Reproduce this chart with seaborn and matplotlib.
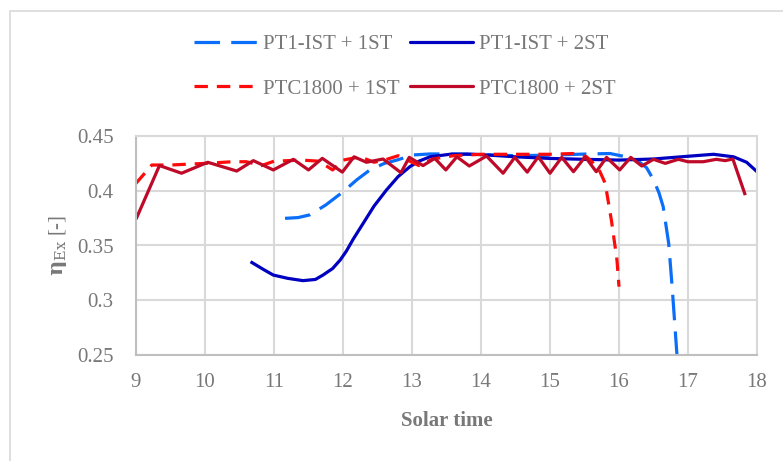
import numpy as np
import pandas as pd
import matplotlib
matplotlib.use("Agg")
import matplotlib.pyplot as plt
from matplotlib.patches import Rectangle
from matplotlib.lines import Line2D
import seaborn as sns

# --- data -------------------------------------------------------------
pt1_1st_x = [11.16, 11.35, 11.52, 11.75, 12.0, 12.2, 12.39, 12.6, 12.78, 13.02, 13.26,
             13.6, 14.0, 14.5, 15.0, 15.5, 15.87, 16.1, 16.26, 16.4, 16.50, 16.58,
             16.64, 16.72, 16.77, 16.84]
pt1_1st_y = [0.3748, 0.3755, 0.378, 0.387, 0.399, 0.410, 0.419, 0.425, 0.428, 0.4327, 0.4336,
             0.4336, 0.433, 0.432, 0.4325, 0.4335, 0.434, 0.431, 0.428, 0.421, 0.410, 0.398,
             0.3855, 0.352, 0.3124, 0.25]

pt1_2st_x = [10.66, 10.85, 10.99, 11.2, 11.42, 11.6, 11.71, 11.85, 11.96, 12.05, 12.15, 12.29,
             12.45, 12.63, 12.8, 12.97, 13.1, 13.26, 13.55, 13.8, 14.0, 14.5, 15.0, 15.5,
             16.0, 16.5, 17.0, 17.37, 17.66, 17.85, 18.0]
pt1_2st_y = [0.3352, 0.328, 0.323, 0.320, 0.3179, 0.319, 0.323, 0.329, 0.3368, 0.345, 0.356,
             0.370, 0.386, 0.4007, 0.413, 0.422, 0.427, 0.431, 0.4333, 0.4335, 0.433, 0.431,
             0.4295, 0.4287, 0.428, 0.429, 0.4315, 0.4333, 0.431, 0.426, 0.4174]

ptc_1st_x = [9.0, 9.23, 9.5, 10.0, 10.4, 10.6, 10.82, 11.0, 11.4, 11.65, 11.85, 12.0, 12.25,
             12.45, 12.6, 12.8, 13.1, 13.3, 13.6, 14.0, 14.5, 15.0, 15.33, 15.53, 15.63,
             15.72, 15.80, 15.89, 15.97, 16.0]
ptc_1st_y = [0.4068, 0.4235, 0.4235, 0.425, 0.4265, 0.4265, 0.423, 0.427, 0.428, 0.427, 0.419,
             0.428, 0.431, 0.426, 0.428, 0.432, 0.423, 0.429, 0.432, 0.4333, 0.4333, 0.4333,
             0.434, 0.431, 0.425, 0.418, 0.4068, 0.373, 0.337, 0.3124]

ptc_2st_x = [9.0, 9.34, 9.66, 10.04, 10.46, 10.70, 10.99, 11.28, 11.50, 11.70, 11.99, 12.16,
             12.34, 12.58, 12.84, 12.96, 13.16, 13.33, 13.49, 13.65, 13.83, 14.08, 14.32,
             14.49, 14.67, 14.83, 15.00, 15.17, 15.34, 15.51, 15.67, 15.82, 16.01, 16.17,
             16.33, 16.50, 16.67, 16.86, 17.00, 17.22, 17.41, 17.54, 17.65, 17.83]
ptc_2st_y = [0.374, 0.423, 0.416, 0.426, 0.418, 0.4275, 0.419, 0.4287, 0.419, 0.4296, 0.417, 0.431,
             0.426, 0.429, 0.4165, 0.4305, 0.423, 0.4296, 0.419, 0.431, 0.4226, 0.4317, 0.416,
             0.4305, 0.417, 0.431, 0.416, 0.4305, 0.4174, 0.431, 0.4174, 0.4305, 0.419, 0.4305,
             0.4226, 0.4287, 0.425, 0.4287, 0.4265, 0.4265, 0.4287, 0.4275, 0.429, 0.396]

series_names = ["PT1-IST + 1ST", "PT1-IST + 2ST", "PTC1800 + 1ST", "PTC1800 + 2ST"]
x_ticks = [9, 10, 11, 12, 13, 14, 15, 16, 17, 18]
y_ticks = [0.25, 0.3, 0.35, 0.4, 0.45]
y_tick_labels = ["0.25", "0.3", "0.35", "0.4", "0.45"]

# --- styling ----------------------------------------------------------
colors = {"PT1-IST + 1ST": "#0A6EFA", "PT1-IST + 2ST": "#0000C0",
          "PTC1800 + 1ST": "#FF0A0A", "PTC1800 + 2ST": "#BE0A28"}
dash_map = {"PT1-IST + 1ST": (8, 3.5), "PT1-IST + 2ST": "",
            "PTC1800 + 1ST": (4.2, 2.8), "PTC1800 + 2ST": ""}
text_gray = "#787878"
grid_gray = "#D9D9D9"

sns.set_theme(style="white")
plt.rcParams["font.family"] = ["Liberation Serif", "DejaVu Serif"]
plt.rcParams["mathtext.fontset"] = "dejavuserif"

frames = []
for name, xs, ys in zip(series_names,
                        [pt1_1st_x, pt1_2st_x, ptc_1st_x, ptc_2st_x],
                        [pt1_1st_y, pt1_2st_y, ptc_1st_y, ptc_2st_y]):
    frames.append(pd.DataFrame({"time": xs, "eta": ys, "series": name}))
df = pd.concat(frames, ignore_index=True)

W, H = 783, 461
fig = plt.figure(figsize=(W / 100, H / 100), dpi=100)
ax = fig.add_axes([136 / W, 1 - 355 / H, (757 - 136) / W, (355 - 136) / H])

sns.lineplot(data=df, x="time", y="eta", hue="series", style="series",
             hue_order=series_names, style_order=series_names,
             palette=colors, dashes=dash_map, sort=False, estimator=None,
             linewidth=2.3, legend=False, ax=ax)
for ln in ax.lines:
    ln.set_solid_capstyle("butt")
    ln.set_dash_capstyle("butt")
    ln.set_solid_joinstyle("round")

ax.set_xlim(9, 18)
ax.set_ylim(0.25, 0.45)
ax.set_xticks(x_ticks)
ax.set_yticks(y_ticks)
ax.set_yticklabels(y_tick_labels)
ax.grid(True, color=grid_gray, linewidth=1.5)
ax.set_axisbelow(True)
for side, sp in ax.spines.items():
    sp.set_visible(True)
    sp.set_color("#BFBFBF" if side in ("left", "bottom") else grid_gray)
    sp.set_linewidth(1.5)
ax.tick_params(axis="both", length=0, labelsize=15, colors=text_gray)
ax.tick_params(axis="x", pad=13)
ax.tick_params(axis="y", pad=16)

ax.set_xlabel("Solar time", fontsize=15, fontweight="bold", color=text_gray, labelpad=14)
ax.set_ylabel(r"$\mathbf{\eta}_{\mathrm{Ex}}$ [-]", fontsize=15,
              color=text_gray, labelpad=6)

# legend: two rows, two columns
handles = {}
for name in series_names:
    d = dash_map[name]
    if d:
        h = Line2D([], [], color=colors[name], linewidth=2.3, dashes=d, dash_capstyle="butt")
    else:
        h = Line2D([], [], color=colors[name], linewidth=2.3)
    handles[name] = h
order = ["PT1-IST + 1ST", "PTC1800 + 1ST", "PT1-IST + 2ST", "PTC1800 + 2ST"]
leg = fig.legend([handles[n] for n in order], order, ncol=2, loc="center",
                 bbox_to_anchor=(405 / W, 1 - 66.5 / H), frameon=False,
                 fontsize=15, handlelength=3.0, handletextpad=0.3,
                 columnspacing=0.5, labelspacing=1.2)
for t in leg.get_texts():
    t.set_color(text_gray)

# outer chart border (top and left edges)
fig.patches.append(Rectangle((9.5 / W, -0.1), 1.2, 1.1 - 11.5 / H, transform=fig.transFigure,
                             fill=False, edgecolor="#D9D9D9", linewidth=1.2))

fig.savefig("out.png", dpi=100)
